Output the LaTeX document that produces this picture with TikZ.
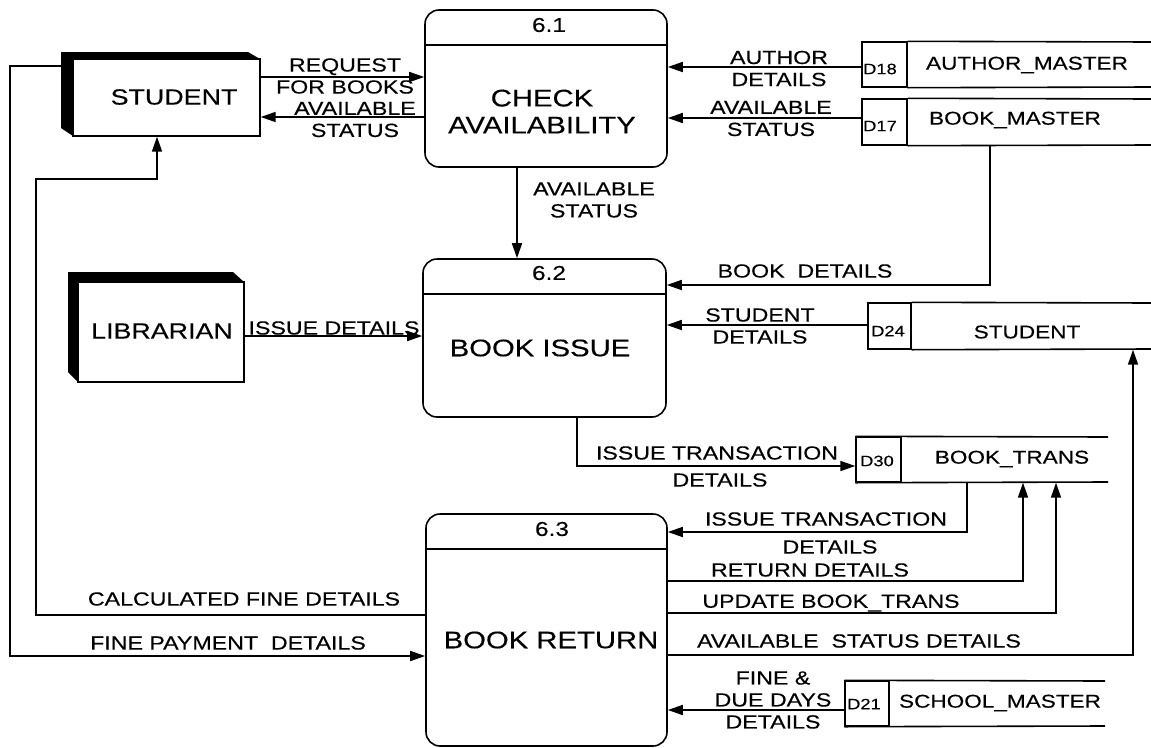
\documentclass[tikz,border=0pt]{standalone}
\usepackage{fontspec}
\setmainfont{Liberation Sans}[FakeStretch=1.22,FakeBold=0.3]
\usetikzlibrary{arrows.meta}
\begin{document}
\begin{tikzpicture}[x=1pt,y=-1pt,line width=1.6pt,
  proc/.style={draw,rounded corners=14pt,inner sep=0pt},
  ent/.style={draw,inner sep=0pt,line width=1.4pt},
  cell/.style={draw,inner sep=0pt,minimum width=45pt,minimum height=45pt,line width=1.4pt},
  lbl/.style={font=\fontsize{19}{22}\selectfont,inner sep=0pt,align=center},
  big/.style={font=\fontsize{24}{27}\selectfont,inner sep=0pt,align=center},
  entl/.style={font=\fontsize{22}{26}\selectfont,inner sep=0pt},
  num/.style={font=\fontsize{20}{22}\selectfont,inner sep=0pt},
  idl/.style={font=\fontsize{15}{17}\selectfont,inner sep=0pt},
  sname/.style={font=\fontsize{18.5}{22}\selectfont,inner sep=0pt},
  arr/.style={-{Triangle[length=15pt,width=10pt]}},
  shadow/.style={fill=black}]
\useasboundingbox (0,0) rectangle (1151,747);

% ---------- processes ----------
\node[proc,minimum width=242pt,minimum height=157pt] (p61) at (546,88.5) {};
\draw (p61.west |- 0,45) -- (p61.east |- 0,45);
\node[num] (n61) at (549,25) {6.1};
\node[big] (t61) at (542,111.5) {CHECK\\AVAILABILITY};

\node[proc,minimum width=243pt,minimum height=158pt] (p62) at (544.5,338) {};
\draw (p62.west |- 0,294) -- (p62.east |- 0,294);
\node[num] (n62) at (549,273) {6.2};
\node[big] (t62) at (540,348) {BOOK ISSUE};

\node[proc,minimum width=241pt,minimum height=232pt] (p63) at (546.5,630) {};
\draw (p63.west |- 0,549) -- (p63.east |- 0,549);
\node[num] (n63) at (552,529) {6.3};
\node[big] (t63) at (551,640) {BOOK RETURN};

% ---------- external entities ----------
\fill[shadow] (61,52) -- (248,52) -- (260,59) -- (73,59) -- (73,136) -- (61,128) -- cycle;
\node[ent,minimum width=187pt,minimum height=77pt] (stud) at (166.5,97.5) {};
\node[entl] (studl) at (174,97) {STUDENT};

\fill[shadow] (68,272) -- (233,272) -- (244,282) -- (78,282) -- (78,382) -- (68,372) -- cycle;
\node[ent,minimum width=166pt,minimum height=100pt] (lib) at (161,332) {};
\node[entl] (libl) at (162,331) {LIBRARIAN};

% ---------- data stores ----------
\node[cell] (d18) at (884.5,64.5) {};
\draw (d18.north east) -- (1151,42) (d18.south east) -- (1151,87);
\node[idl] (d18l) at (880,69) {D18};
\node[sname] (d18n) at (1027,65) {AUTHOR\_MASTER};

\node[cell,minimum height=46pt] (d17) at (884.5,122) {};
\draw (d17.north east) -- (1151,99) (d17.south east) -- (1151,145);
\node[idl] (d17l) at (880,126) {D17};
\node[sname] (d17n) at (1015,120) {BOOK\_MASTER};

\node[cell,minimum width=43pt,minimum height=46pt] (d24) at (889.5,326) {};
\draw (d24.north east) -- (1151,303) (d24.south east) -- (1151,349);
\node[idl] (d24l) at (888,331) {D24};
\node[sname] (d24n) at (1027,332) {STUDENT};

\node[cell] (d30) at (878.5,459.5) {};
\draw (d30.north west) -- (1108,437) (d30.south west) -- (1108,482);
\node[idl] (d30l) at (877,461) {D30};
\node[sname] (d30n) at (1012,459) {BOOK\_TRANS};

\node[cell,minimum width=44pt] (d21) at (867,703.5) {};
\draw (d21.north west) -- (1105,681) (d21.south west) -- (1105,726);
\node[idl] (d21l) at (864,704) {D21};
\node[sname] (d21n) at (1000,703) {SCHOOL\_MASTER};

% ---------- connectors ----------
\draw[arr] (stud.east |- 0,77) -- (p61.west |- 0,77);
\draw[arr] (p61.west |- 0,117) -- (stud.east |- 0,117);
\draw[arr] (d18.west |- 0,67) -- (p61.east |- 0,67);
\draw[arr] (d17.west |- 0,118) -- (p61.east |- 0,118);
\draw[arr] (p61.south -| 517,0) -- (p62.north -| 517,0);
\coordinate (bmout) at (990,145);
\draw[arr] (bmout) -- (990,285) -- (p62.east |- 0,285);
\draw[arr] (d24.west |- 0,325) -- (p62.east |- 0,325);
\draw[arr] (lib.east |- 0,336) -- (p62.west |- 0,336);
\draw[arr] (p62.south -| 577,0) -- (577,466) -- (d30.west |- 0,466);
\draw[arr] (d30.south -| 967,0) -- (967,532) -- (p63.east |- 0,532);
\draw[arr] (p63.east |- 0,581) -- (1023,581) -- (d30.south -| 1023,0);
\draw[arr] (p63.east |- 0,613) -- (1056,613) -- (d30.south -| 1056,0);
\draw[arr] (p63.east |- 0,655) -- (1133,655) -- (d24.south -| 1133,0);
\draw[arr] (d21.west |- 0,710) -- (p63.east |- 0,710);
\draw[arr] (p63.west |- 0,615) -- (36,615) -- (36,179) -- (157,179) -- (stud.south -| 157,0);
\coordinate (studback) at (61,66);
\draw[arr] (studback) -- (10,66) -- (10,656) -- (p63.west |- 0,656);

% ---------- flow labels ----------
\node[lbl] (l1) at (345,76) {REQUEST\\FOR BOOKS};
\node[lbl] (l2) at (355,119.5) {AVAILABLE\\STATUS};
\node[lbl] (l3) at (779,68.5) {AUTHOR\\DETAILS};
\node[lbl] (l4) at (771,118.5) {AVAILABLE\\STATUS};
\node[lbl] (l5) at (594,200) {AVAILABLE\\STATUS};
\node[lbl] (l6) at (805,271) {BOOK\ \ DETAILS};
\node[lbl] (l7) at (760,326) {STUDENT\\DETAILS};
\node[lbl] (l8) at (334,328) {ISSUE DETAILS};
\node[lbl] (l9) at (717,453) {ISSUE TRANSACTION};
\node[lbl] (l9b) at (720,480) {DETAILS};
\node[lbl] (l10) at (826,519) {ISSUE TRANSACTION};
\node[lbl] (l10b) at (830,547) {DETAILS};
\node[lbl] (l11) at (810,570) {RETURN DETAILS};
\node[lbl] (l12) at (831,603) {UPDATE BOOK\_TRANS};
\node[lbl] (l13) at (859,641) {AVAILABLE\ \ STATUS DETAILS};
\node[lbl] (l14) at (773,700) {FINE \&\\DUE DAYS\\DETAILS};
\node[lbl] (l15) at (244,599) {CALCULATED FINE DETAILS};
\node[lbl] (l16) at (228,643) {FINE PAYMENT\ \ DETAILS};
\end{tikzpicture}
\end{document}
